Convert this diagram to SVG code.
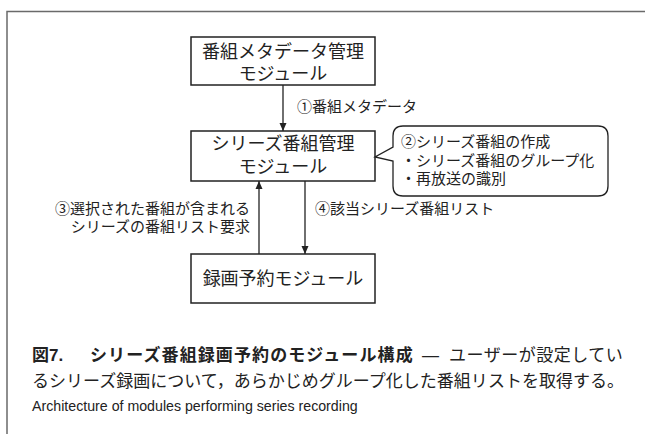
<svg xmlns="http://www.w3.org/2000/svg" width="645" height="434" viewBox="0 0 645 434">
<defs>
<style>
.frame{fill:none;stroke:#6a6a6a;stroke-width:1.5}
.box{fill:#fff;stroke:#222;stroke-width:1.5}
.bt{font-family:"Liberation Sans","Noto Sans CJK JP",sans-serif;font-size:18px;fill:#222;text-anchor:middle}
.lb{font-family:"Liberation Sans","Noto Sans CJK JP",sans-serif;font-size:15px;fill:#222}
.ln{stroke:#222;stroke-width:1.3;fill:none}
.cap{font-family:"Liberation Sans","Noto Sans CJK JP",sans-serif;font-size:17px;fill:#222}
.en{font-family:"Liberation Sans",sans-serif;font-size:14.2px;fill:#222}
</style>
<marker id="ah" viewBox="0 0 8 12" refX="8" refY="6" markerWidth="8" markerHeight="12" markerUnits="userSpaceOnUse" orient="auto">
<path d="M0,2.5 L8,6 L0,9.5 Z" fill="#222"/>
</marker>
</defs>
<rect width="645" height="434" fill="#fff"/>
<path class="frame" d="M7,434 V11.5 H645"/>
<g id="connectors">
<line class="ln" x1="283" y1="85" x2="283" y2="131" marker-end="url(#ah)"/>
<line class="ln" x1="259" y1="254" x2="259" y2="181" marker-end="url(#ah)"/>
<line class="ln" x1="305" y1="181" x2="305" y2="254" marker-end="url(#ah)"/>
<text class="lb" x="297" y="112">①番組メタデータ</text>
<text class="lb" x="250" y="214" text-anchor="end">③選択された番組が含まれる</text>
<text class="lb" x="250" y="232" text-anchor="end">シリーズの番組リスト要求</text>
<text class="lb" x="315" y="214">④該当シリーズ番組リスト</text>
</g>
<g id="n1">
<rect class="box" x="191" y="37" width="184" height="48"/>
<text class="bt" x="283" y="58">番組メタデータ管理</text>
<text class="bt" x="283" y="80">モジュール</text>
</g>
<g id="n2">
<rect class="box" x="191" y="131" width="184" height="50"/>
<text class="bt" x="283" y="150">シリーズ番組管理</text>
<text class="bt" x="283" y="173">モジュール</text>
</g>
<g id="n3">
<rect class="box" x="191" y="254" width="184" height="49"/>
<text class="bt" x="283" y="285">録画予約モジュール</text>
</g>
<g id="callout">
<path class="ln" d="M403,126 H598 Q608,126 608,136 V186 Q608,196 598,196 H403 Q393,196 393,186 V161 L375,157 L393,147 V136 Q393,126 403,126 Z" fill="#fff"/>
<text class="lb" x="401" y="147">②シリーズ番組の作成</text>
<text class="lb" x="401" y="166">・シリーズ番組のグループ化</text>
<text class="lb" x="401" y="184">・再放送の識別</text>
</g>
<g id="caption">
<text class="cap" y="361"><tspan x="32" font-weight="bold">図7.</tspan><tspan x="90" font-weight="bold" letter-spacing="1.1">シリーズ番組録画予約のモジュール構成</tspan><tspan x="422">—</tspan><tspan x="449" letter-spacing="0.5">ユーザーが設定してい</tspan></text>
<text class="cap" x="32" y="387" textLength="592" lengthAdjust="spacing">るシリーズ録画について，あらかじめグループ化した番組リストを取得する。</text>
<text class="en" x="32" y="411">Architecture of modules performing series recording</text>
</g>
</svg>
